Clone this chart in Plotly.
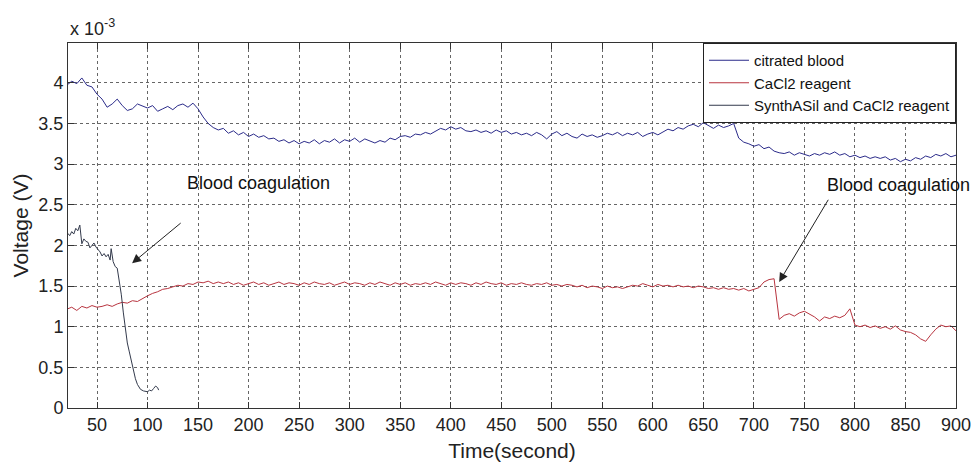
import plotly.graph_objects as go

# Time axis (seconds) for the two long recordings
time_main = [21] + list(range(25, 901, 5))

# citrated blood (x 1e-3 V)
citrated_blood = [3.98,
    4.02, 3.99, 4.06, 3.97, 3.95, 3.86, 3.80, 3.70, 3.74, 3.80,
    3.72, 3.66, 3.68, 3.74, 3.71, 3.69, 3.72, 3.65, 3.68, 3.71,
    3.67, 3.72, 3.74, 3.70, 3.75, 3.68, 3.58, 3.50, 3.45, 3.42,
    3.44, 3.38, 3.41, 3.36, 3.39, 3.34, 3.37, 3.33, 3.35, 3.31,
    3.32, 3.28, 3.30, 3.26, 3.29, 3.25, 3.28, 3.26, 3.30, 3.25,
    3.29, 3.27, 3.31, 3.26, 3.30, 3.28, 3.32, 3.27, 3.31, 3.28,
    3.26, 3.29, 3.27, 3.32, 3.30, 3.34, 3.35, 3.33, 3.37, 3.36,
    3.39, 3.37, 3.41, 3.44, 3.42, 3.46, 3.43, 3.45, 3.41, 3.40,
    3.42, 3.39, 3.41, 3.38, 3.42, 3.39, 3.41, 3.37, 3.39, 3.36,
    3.38, 3.35, 3.39, 3.36, 3.31, 3.37, 3.40, 3.35, 3.38, 3.34,
    3.32, 3.37, 3.34, 3.36, 3.33, 3.35, 3.38, 3.36, 3.39, 3.35,
    3.38, 3.36, 3.39, 3.34, 3.37, 3.39, 3.36, 3.40, 3.43, 3.41,
    3.45, 3.43, 3.47, 3.49, 3.46, 3.51, 3.47, 3.44, 3.48, 3.45,
    3.47, 3.50, 3.32, 3.27, 3.25, 3.22, 3.24, 3.19, 3.21, 3.16,
    3.14, 3.13, 3.15, 3.11, 3.14, 3.12, 3.10, 3.13, 3.11, 3.14,
    3.12, 3.15, 3.11, 3.13, 3.09, 3.11, 3.08, 3.10, 3.07, 3.09,
    3.07, 3.09, 3.05, 3.07, 3.03, 3.06, 3.04, 3.08, 3.06, 3.10,
    3.08, 3.12, 3.10, 3.13, 3.09, 3.11]

# CaCl2 reagent (x 1e-3 V)
cacl2_reagent = [1.22,
    1.24, 1.20, 1.25, 1.23, 1.26, 1.24, 1.25, 1.27, 1.25, 1.28,
    1.30, 1.29, 1.32, 1.31, 1.35, 1.38, 1.41, 1.43, 1.46, 1.47,
    1.49, 1.51, 1.50, 1.53, 1.52, 1.55, 1.54, 1.56, 1.53, 1.55,
    1.53, 1.55, 1.52, 1.54, 1.51, 1.53, 1.55, 1.52, 1.54, 1.51,
    1.53, 1.55, 1.52, 1.54, 1.53, 1.51, 1.54, 1.52, 1.55, 1.53,
    1.52, 1.54, 1.51, 1.53, 1.55, 1.52, 1.54, 1.53, 1.51, 1.54,
    1.52, 1.55, 1.53, 1.51, 1.54, 1.52, 1.54, 1.51, 1.53, 1.52,
    1.54, 1.52, 1.55, 1.53, 1.51, 1.54, 1.52, 1.54, 1.53, 1.51,
    1.54, 1.52, 1.55, 1.53, 1.52, 1.54, 1.51, 1.53, 1.52, 1.54,
    1.52, 1.51, 1.53, 1.52, 1.54, 1.51, 1.52, 1.50, 1.52, 1.51,
    1.49, 1.51, 1.48, 1.50, 1.49, 1.47, 1.50, 1.48, 1.49, 1.47,
    1.49, 1.51, 1.50, 1.53, 1.51, 1.49, 1.52, 1.50, 1.51, 1.49,
    1.51, 1.49, 1.50, 1.48, 1.50, 1.49, 1.47, 1.48, 1.46, 1.48,
    1.46, 1.47, 1.45, 1.47, 1.44, 1.46, 1.48, 1.55, 1.58, 1.59,
    1.09, 1.14, 1.16, 1.13, 1.17, 1.19, 1.16, 1.12, 1.07, 1.12,
    1.10, 1.13, 1.11, 1.14, 1.22, 1.02, 1.00, 1.02, 0.99, 1.01,
    0.98, 1.00, 0.97, 1.01, 0.96, 0.94, 0.93, 0.90, 0.85, 0.82,
    0.90, 0.97, 1.02, 1.00, 1.01, 0.95]

# SynthASil and CaCl2 reagent
time_synth = [21, 23, 25, 27, 29, 31, 33, 35, 37, 39,
              41, 43, 45, 47, 49, 51, 53, 55, 57, 59,
              61, 63, 64, 66, 68, 70, 72, 74, 76, 78,
              80, 82, 84, 86, 88, 90, 93, 96, 100, 102,
              104, 106, 108, 110, 111]
synthasil = [2.15, 2.12, 2.17, 2.14, 2.21, 2.18, 2.25, 2.02, 2.08, 2.05,
             2.04, 1.97, 2.00, 2.03, 1.98, 1.95, 1.92, 1.87, 1.90, 1.86,
             1.89, 1.82, 1.96, 1.80, 1.74, 1.72, 1.56, 1.40, 1.18, 0.95,
             0.80, 0.69, 0.58, 0.45, 0.36, 0.29, 0.23, 0.21, 0.20, 0.22,
             0.21, 0.24, 0.27, 0.25, 0.22]

x_ticks = list(range(50, 901, 50))
y_ticks = [0, 0.5, 1, 1.5, 2, 2.5, 3, 3.5, 4]
y_tick_labels = ["0", "0.5", "1", "1.5", "2", "2.5", "3", "3.5", "4"]

FONT = "Liberation Sans, Arial, sans-serif"

fig = go.Figure()
fig.add_trace(go.Scatter(x=time_main, y=citrated_blood, mode="lines",
                         name="citrated blood",
                         line=dict(color="#2b2b8a", width=1)))
fig.add_trace(go.Scatter(x=time_main, y=cacl2_reagent, mode="lines",
                         name="CaCl2 reagent",
                         line=dict(color="#b8343f", width=1)))
fig.add_trace(go.Scatter(x=time_synth, y=synthasil, mode="lines",
                         name="SynthASil and CaCl2 reagent",
                         line=dict(color="#333a4c", width=1)))

axis_common = dict(
    showline=True, linecolor="#333", linewidth=1, mirror="allticks",
    ticks="inside", ticklen=6, tickcolor="#333", automargin=False,
    showgrid=True, gridcolor="#666", griddash="dot", gridwidth=1,
    zeroline=False, tickfont=dict(family=FONT, size=18, color="#222"),
)

fig.update_xaxes(range=[21.3, 900], tickvals=x_ticks,
                 title=dict(text="Time(second)", font=dict(family=FONT, size=21, color="#222"),
                            standoff=10),
                 **axis_common)
fig.update_yaxes(range=[0, 4.49], tickvals=y_ticks, ticktext=y_tick_labels,
                 title=dict(text="Voltage (V)", font=dict(family=FONT, size=21, color="#222"),
                            standoff=4),
                 **axis_common)

arrow_style = dict(showarrow=True, arrowhead=2, arrowsize=1.8, arrowwidth=1,
                   arrowcolor="#222", text="", xref="x", yref="y", axref="x", ayref="y")
fig.add_annotation(x=84.7, y=1.78, ax=134.3, ay=2.29, **arrow_style)
fig.add_annotation(x=725, y=1.55, ax=774.5, ay=2.58, **arrow_style)
fig.add_annotation(x=209.6, y=2.77, xref="x", yref="y", text="Blood coagulation",
                   showarrow=False, font=dict(family=FONT, size=18, color="#111"))
fig.add_annotation(x=843, y=2.74, xref="x", yref="y", text="Blood coagulation",
                   showarrow=False, font=dict(family=FONT, size=18, color="#111"))
fig.add_annotation(x=0, y=1, xref="paper", yref="paper", xanchor="left", yanchor="bottom",
                   text="x 10<sup>-3</sup>", showarrow=False, yshift=2,
                   font=dict(family=FONT, size=18, color="#222"))

fig.update_layout(
    width=974, height=462,
    margin=dict(l=68, r=18, t=43, b=54, autoexpand=False),
    paper_bgcolor="white", plot_bgcolor="white",
    font=dict(family=FONT, color="#222"),
    legend=dict(x=1, y=1, xanchor="right", yanchor="top",
                bgcolor="white", bordercolor="#222", borderwidth=1,
                font=dict(family=FONT, size=15, color="#111"),
                itemwidth=40, tracegroupgap=0),
    showlegend=True,
)

fig.write_html("out.html")
